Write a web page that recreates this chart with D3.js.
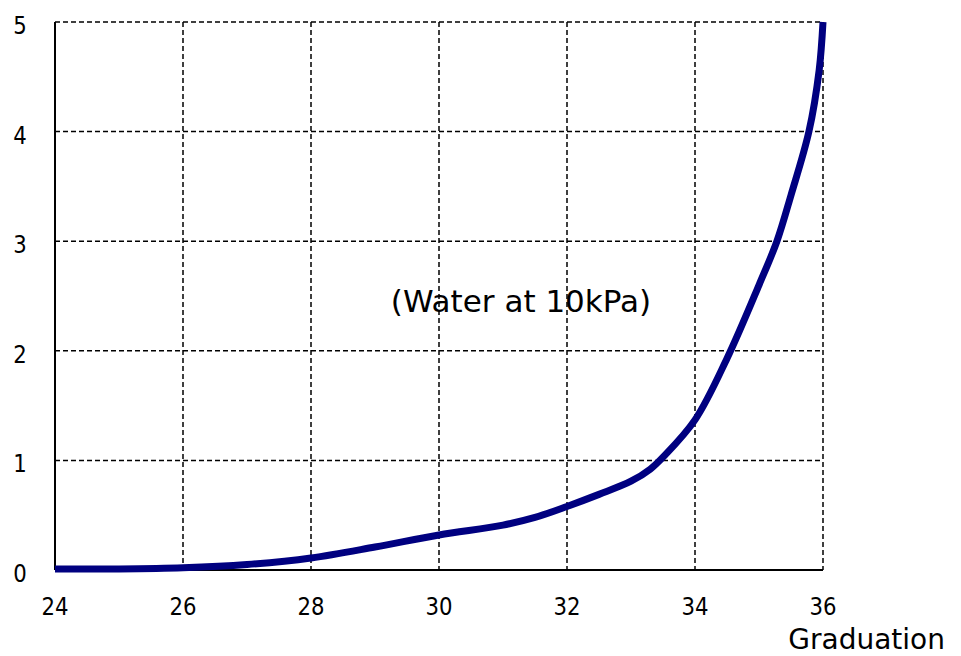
<!DOCTYPE html>
<html>
<head>
<meta charset="utf-8">
<script src="https://cdn.jsdelivr.net/npm/d3@7"></script>
<style>
  body { margin: 0; background: #fff; }
  svg { display: block; }
</style>
</head>
<body>
<svg id="chart" width="961" height="656"></svg>
<script>
// data
const graduation = [24, 25, 26, 27, 28, 29, 30, 31, 31.5, 32, 32.5, 33, 33.3, 33.5, 34, 34.5, 35, 35.28, 35.5, 35.78, 35.94, 36];
const flowValues = [0.01, 0.01, 0.02, 0.05, 0.11, 0.21, 0.32, 0.41, 0.48, 0.58, 0.69, 0.81, 0.92, 1.03, 1.37, 1.93, 2.6, 3.0, 3.42, 4.0, 4.56, 5.0];
const xTicks = [24, 26, 28, 30, 32, 34, 36];
const yTicks = [0, 1, 2, 3, 4, 5];
const noteText = "(Water at 10kPa)";
const xTitle = "Graduation";

const margin = {top: 22, right: 138, bottom: 86, left: 55};
const width = 961 - margin.left - margin.right;
const height = 656 - margin.top - margin.bottom;

const svg = d3.select("#chart");
const g = svg.append("g")
    .attr("transform", "translate(" + margin.left + "," + margin.top + ")");

const x = d3.scaleLinear().domain([24, 36]).range([0, width]);
const y = d3.scaleLinear().domain([0, 5]).range([height, 0]);

// dashed grid
g.append("g")
  .selectAll("line")
  .data(xTicks.slice(1))
  .enter().append("line")
  .attr("x1", d => x(d)).attr("x2", d => x(d))
  .attr("y1", 0).attr("y2", height)
  .attr("stroke", "#000").attr("stroke-width", 1.5)
  .attr("stroke-dasharray", "5,3");

g.append("g")
  .selectAll("line")
  .data(yTicks.slice(1))
  .enter().append("line")
  .attr("x1", 0).attr("x2", width)
  .attr("y1", d => y(d)).attr("y2", d => y(d))
  .attr("stroke", "#000").attr("stroke-width", 1.5)
  .attr("stroke-dasharray", "5,3");

// solid axes
g.append("line")
  .attr("x1", 0).attr("x2", 0).attr("y1", 0).attr("y2", height)
  .attr("stroke", "#000").attr("stroke-width", 2);
g.append("line")
  .attr("x1", 0).attr("x2", width).attr("y1", height).attr("y2", height)
  .attr("stroke", "#000").attr("stroke-width", 2);

// tick labels (narrow look, like the original)
g.append("g")
  .selectAll("text")
  .data(xTicks)
  .enter().append("text")
  .attr("transform", d => "translate(" + x(d) + "," + (height + 45) + ") scale(0.85,1)")
  .attr("text-anchor", "middle")
  .style("font-family", "'DejaVu Sans', sans-serif")
  .style("font-size", "25px")
  .text(d => d);

g.append("g")
  .selectAll("text")
  .data(yTicks)
  .enter().append("text")
  .attr("transform", d => "translate(-35," + (y(d) + 12) + ") scale(0.85,1)")
  .attr("text-anchor", "middle")
  .style("font-family", "'DejaVu Sans', sans-serif")
  .style("font-size", "25px")
  .text(d => d);

// curve
const pts = graduation.map((d, i) => ({g: d, v: flowValues[i]}));
g.append("path")
  .datum(pts)
  .attr("fill", "none")
  .attr("stroke", "#000080")
  .attr("stroke-width", 7)
  .attr("stroke-linejoin", "round")
  .attr("d", d3.line().x(d => x(d.g)).y(d => y(d.v)).curve(d3.curveCatmullRom.alpha(0.5)));

// note and axis title
svg.append("text")
  .attr("x", 521)
  .attr("y", 312)
  .attr("text-anchor", "middle")
  .style("font-family", "'DejaVu Sans', sans-serif")
  .style("font-size", "31px")
  .text(noteText);

svg.append("text")
  .attr("x", 945)
  .attr("y", 649)
  .attr("text-anchor", "end")
  .style("font-family", "'DejaVu Sans', sans-serif")
  .style("font-size", "28px")
  .text(xTitle);
</script>
</body>
</html>
